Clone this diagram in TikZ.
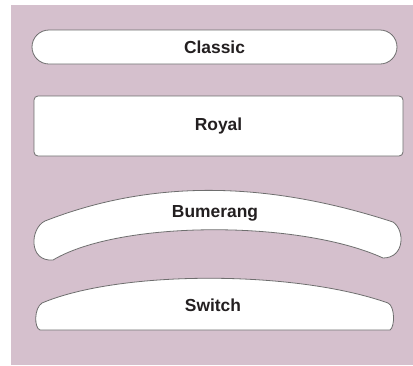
\documentclass[tikz,border=0pt]{standalone}
\usepackage{fontspec}
\setmainfont{Liberation Sans}
\definecolor{bgpink}{RGB}{213,192,205}
\definecolor{edgegray}{RGB}{110,110,110}
\definecolor{txt}{RGB}{35,31,32}
\begin{document}
\begin{tikzpicture}[x=1pt,y=-1pt,
  shapebox/.style={fill=white,draw=edgegray,line width=0.8pt},
  lbl/.style={font=\fontsize{17.4}{20}\selectfont\bfseries,text=txt,inner sep=0pt}]
\useasboundingbox (0,0) rectangle (413,365);
\fill[bgpink] (11,5) rectangle (413,365);
% Classic
\draw[shapebox,rounded corners=17pt] (32,30) rectangle (397,64);
\node[lbl] (classic) at (214.5,47) {Classic};
% Royal
\draw[shapebox,rounded corners=4pt] (34,96) rectangle (403,156);
\node[lbl] (royal) at (218.5,126) {Royal};
% Bumerang
\draw[shapebox] (45,221) .. controls (150,180) and (264,180) .. (393,222)
  .. controls (405,230) and (405,258) .. (383,258)
  .. controls (300,220) and (120,220) .. (53,260)
  .. controls (28,262) and (30,228) .. cycle;
\node[lbl] (bumerang) at (215,213) {Bumerang};
% Switch
\draw[shapebox] (42,303) .. controls (120,270) and (295,270) .. (388,303)
  .. controls (395,306) and (395,327) .. (390,330)
  -- (40,330)
  .. controls (34,328) and (34,308) .. cycle;
\node[lbl] (switch) at (213,305) {Switch};
\end{tikzpicture}
\end{document}
